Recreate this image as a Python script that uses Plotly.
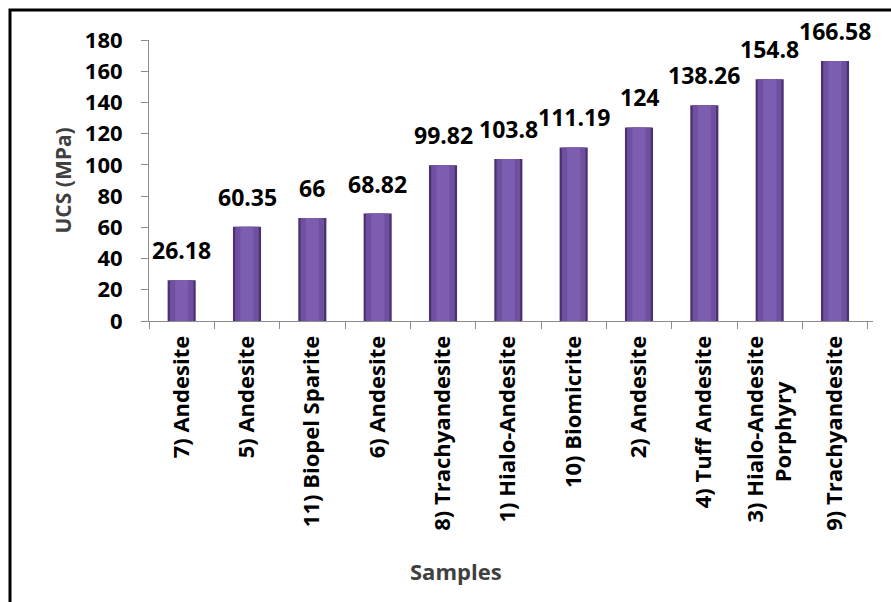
import plotly.graph_objects as go

# UCS test results, sorted from weakest to strongest sample
samples = [
    "7) Andesite", "5) Andesite", "11) Biopel Sparite", "6) Andesite",
    "8) Trachyandesite", "1) Hialo-Andesite", "10) Biomicrite", "2) Andesite",
    "4) Tuff Andesite", "3) Hialo-Andesite<br>Porphyry" + "\u00a0" * 8, "9) Trachyandesite",
]
ucs_mpa = [26.18, 60.35, 66, 68.82, 99.82, 103.8, 111.19, 124, 138.26, 154.8, 166.58]
value_labels = ["26.18", "60.35", "66", "68.82", "99.82", "103.8", "111.19", "124",
                "138.26", "154.8", "166.58"]
y_ticks = [0, 20, 40, 60, 80, 100, 120, 140, 160, 180]

W, H = 891, 602
L, R, T, B = 149, 18, 40, 281
FONT = "Open Sans"

fig = go.Figure()

# shaded column: dark rim, body, lighter core
for width, color in [(0.43, "#4a3272"), (0.36, "#6f50a0"), (0.2, "#7d5daf")]:
    fig.add_trace(go.Bar(
        x=samples, y=ucs_mpa, width=width,
        marker=dict(color=color, line=dict(width=0)),
        hoverinfo="skip", showlegend=False,
    ))

# value labels above each column
for s, v, t in zip(samples, ucs_mpa, value_labels):
    fig.add_annotation(
        x=s, y=v, text=f"<b>{t}</b>", showarrow=False,
        yanchor="bottom", yshift=12,
        font=dict(family=FONT, size=23, color="#000000"),
    )

pw, ph = W - L - R, H - T - B

# axis titles
fig.add_annotation(
    xref="paper", yref="paper", x=(62 - L) / pw, y=0.5,
    text="<b>UCS (MPa)</b>", textangle=-90, showarrow=False,
    xanchor="center", yanchor="middle",
    font=dict(family=FONT, size=21, color="#404040"),
)
fig.add_annotation(
    xref="paper", yref="paper", x=(456 - L) / pw, y=(321 - 571) / ph,
    text="<b>Samples</b>", showarrow=False,
    xanchor="center", yanchor="middle",
    font=dict(family=FONT, size=22, color="#404040"),
)

# outer chart frame
fig.add_shape(
    type="rect", xref="paper", yref="paper",
    x0=(10 - L) / pw, x1=(W + 20 - L) / pw,
    y0=(321 - (H + 20)) / ph, y1=(321 - 10) / ph,
    line=dict(color="#000000", width=3), fillcolor="rgba(0,0,0,0)", layer="below",
)

fig.update_layout(
    width=W, height=H, autosize=False,
    margin=dict(l=L, r=R, t=T, b=B, pad=0),
    paper_bgcolor="#ffffff", plot_bgcolor="#ffffff",
    barmode="overlay", bargap=0.57,
    font=dict(family=FONT, color="#000000"),
)
fig.update_xaxes(
    type="category", tickangle=-90, tickson="boundaries",
    ticks="outside", ticklen=7, tickcolor="#8c8c8c",
    showline=True, linecolor="#8c8c8c", linewidth=1,
    showgrid=False, zeroline=False,
    tickfont=dict(family=FONT, size=22, color="#000000", weight="bold"),
    ticklabelstandoff=5,
)
fig.update_yaxes(
    range=[0, 180], tickvals=y_ticks,
    ticks="outside", ticklen=7, tickcolor="#8c8c8c",
    showline=True, linecolor="#8c8c8c", linewidth=1,
    showgrid=False, zeroline=False,
    tickfont=dict(family=FONT, size=22, color="#000000", weight="bold"),
    ticklabelstandoff=14,
)

fig.write_html("out.html")
